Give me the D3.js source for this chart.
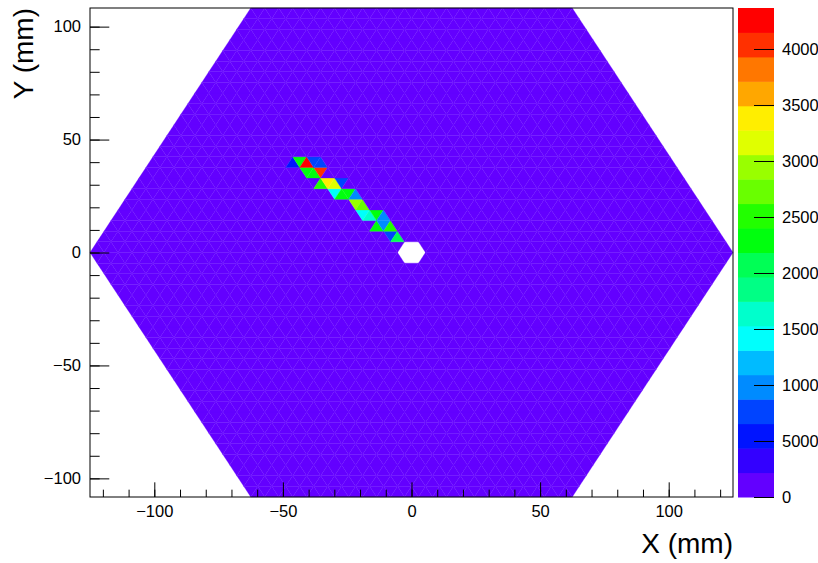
<!DOCTYPE html>
<html>
<head>
<meta charset="utf-8">
<script src="https://cdn.jsdelivr.net/npm/d3@7"></script>
<style>
  html, body { margin: 0; padding: 0; background: #fff; }
  svg { display: block; font-family: "Liberation Sans", Arial, Helvetica, sans-serif; }
</style>
</head>
<body>
<svg id="chart" width="818" height="563"></svg>
<script>
// hexagonal map made of triangular pixels, drawn like a ROOT COLZ plot

const hexRadius = 125      // mm, corner of the outer hexagon
const nSide = 23           // triangles along one side of the hexagon
const zMax = 43660
const nContours = 20

// fired pixels: [row, column, content]; row 0 is just above y=0, column counts half-sides from x=0
const hits = [
  [8, -17, 5500], [8, -16, 23000], [8, -15, 43000], [8, -14, 8000], [8, -13, 8500],
  [7, -15, 23500], [7, -14, 22000], [7, -13, 40000],
  [6, -13, 26000], [6, -12, 34000], [6, -11, 32500], [6, -10, 7000],
  [5, -11, 14500], [5, -10, 23000], [5, -9, 22500], [5, -8, 10000],
  [4, -8, 30000], [4, -7, 27500],
  [3, -7, 14500], [3, -6, 16500], [3, -5, 23000], [3, -4, 10000],
  [2, -5, 22500], [2, -4, 9500], [2, -3, 24500],
  [1, -3, 7500], [1, -2, 20000]
]

const xTicks = [-100, -50, 0, 50, 100]
const yTicks = [-100, -50, 0, 50, 100]
const zTicks = [0, 5000, 10000, 15000, 20000, 25000, 30000, 35000, 40000]

const svg = d3.select("#chart")
const frame = { left: 90, right: 733, top: 8, bottom: 497 }
const side = hexRadius / nSide
const rowH = side * Math.sqrt(3) / 2
const apothem = nSide * rowH

const x = d3.scaleLinear().domain([-hexRadius, hexRadius]).range([frame.left, frame.right])
const y = d3.scaleLinear().domain([-apothem, apothem]).range([frame.bottom, frame.top])
const z = d3.scaleLinear().domain([0, zMax]).range([frame.bottom, frame.top])

// ROOT "pretty" palette: 50 hues from violet to red, picked by contour level
function levelColor(level) {
  const idx = Math.floor((level + 0.99) * 50 / nContours)
  return d3.hsl(280 - (idx + 1) * 5.6, 1, 0.5).toString()
}
function contentColor(v) {
  const level = Math.max(0, Math.min(nContours - 1, Math.floor(v / zMax * nContours)))
  return levelColor(level)
}

// build all triangles inside the hexagon
const content = new Map()
for (let h of hits) content.set(h[0] + ":" + h[1], h[2])

const cells = []
for (let row = -nSide; row < nSide; row++) {
  for (let col = -2 * nSide; col <= 2 * nSide; col++) {
    const up = (((col - row) % 2) + 2) % 2 === 1
    const verts = up
      ? [[col - 1, row], [col + 1, row], [col, row + 1]]
      : [[col - 1, row + 1], [col + 1, row + 1], [col, row]]
    const inside = verts.every((v) => Math.abs(v[0]) + Math.abs(v[1]) <= 2 * nSide && Math.abs(v[1]) <= nSide)
    if (!inside) continue
    if ((row === 0 || row === -1) && Math.abs(col) <= 1) continue // central hole
    cells.push({ row, col, verts, value: content.get(row + ":" + col) || 0 })
  }
}

const plot = svg.append("g")
plot.selectAll("path.cell").data(cells).enter().append("path")
  .attr("class", "cell")
  .attr("d", (d) => "M" + d.verts.map((v) => x(v[0] * side / 2) + "," + y(v[1] * rowH)).join("L") + "Z")
  .attr("fill", (d) => contentColor(d.value))
  .attr("stroke", (d) => contentColor(d.value))
  .attr("stroke-width", 0.3)

// frame
svg.append("rect")
  .attr("x", frame.left).attr("y", frame.top)
  .attr("width", frame.right - frame.left).attr("height", frame.bottom - frame.top)
  .attr("fill", "none").attr("stroke", "#000").attr("stroke-width", 1)

const tickLenX = 0.03 * (frame.bottom - frame.top)
const tickLenY = 0.03 * (frame.right - frame.left)

// x axis: minor then major
svg.append("g").attr("transform", `translate(0,${frame.bottom})`)
  .call(d3.axisBottom(x).tickValues(d3.range(-120, 121, 10)).tickSize(-tickLenX / 2).tickFormat(""))
svg.append("g").attr("class", "lab").attr("transform", `translate(0,${frame.bottom})`)
  .call(d3.axisBottom(x).tickValues(xTicks).tickSize(-tickLenX).tickPadding(8).tickFormat(d3.format("d")))

// y axis
svg.append("g").attr("transform", `translate(${frame.left},0)`)
  .call(d3.axisLeft(y).tickValues(d3.range(-100, 101, 10)).tickSize(-tickLenY / 2).tickFormat(""))
svg.append("g").attr("class", "lab").attr("transform", `translate(${frame.left},0)`)
  .call(d3.axisLeft(y).tickValues(yTicks).tickSize(-tickLenY).tickPadding(9).tickFormat(d3.format("d")))

// colour bar
const bar = { left: 738, right: 774 }
const levels = d3.range(nContours)
svg.append("g").selectAll("rect").data(levels).enter().append("rect")
  .attr("x", bar.left)
  .attr("y", (d) => z(zMax * (d + 1) / nContours))
  .attr("width", bar.right - bar.left)
  .attr("height", (d) => z(zMax * d / nContours) - z(zMax * (d + 1) / nContours) + 0.5)
  .attr("fill", (d) => levelColor(d))
svg.append("g").attr("class", "lab").attr("transform", `translate(${bar.right},0)`)
  .call(d3.axisRight(z).tickValues(zTicks).tickSize(-20).tickPadding(8).tickFormat(d3.format("d")))

svg.selectAll(".domain").remove()
svg.selectAll(".tick line").attr("stroke", "#000")
d3.selectAll(".lab").attr("font-family", null).attr("font-size", null)
svg.selectAll(".lab text").attr("font-size", 16.5).attr("fill", "#000")

// axis titles
svg.append("text").attr("x", frame.right).attr("y", 553)
  .attr("text-anchor", "end").attr("font-size", 28).text("X (mm)")
svg.append("text").attr("transform", `translate(33,${frame.top}) rotate(-90)`)
  .attr("text-anchor", "end").attr("font-size", 28).text("Y (mm)")
</script>
</body>
</html>
